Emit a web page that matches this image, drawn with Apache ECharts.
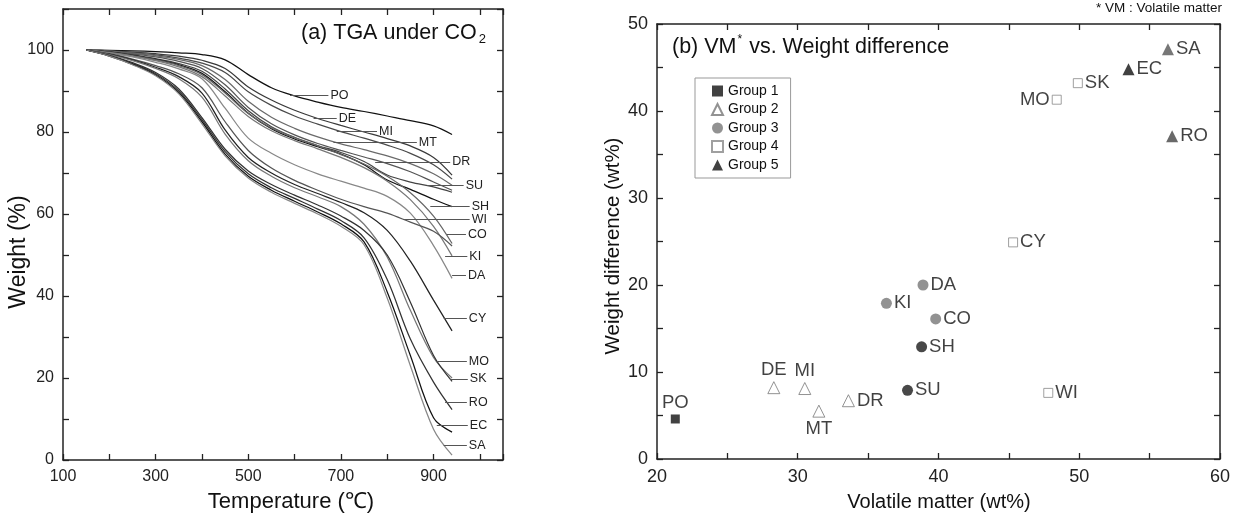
<!DOCTYPE html>
<html><head><meta charset="utf-8">
<script src="https://cdn.jsdelivr.net/npm/echarts/dist/echarts.min.js"></script>
<style>html,body{margin:0;padding:0;background:#fff}#c{width:1233px;height:518px}</style>
</head><body><div id="c"></div>
<script>
// ---------- (a) TGA curves ----------
const temps = [150,200,250,300,350,400,450,500,550,600,650,700,750,800,850,900,940];
const wPO = [100,99.9,99.8,99.6,99.3,98.9,97.6,94.0,90.8,88.8,87.3,86.0,85.0,83.9,82.8,81.5,79.4];
const wDE = [100,99.8,99.5,99.1,98.5,97.5,95.5,91.0,87.8,85.3,83.3,81.6,80.0,78.4,76.6,73.8,69.5];
const wMI = [100,99.7,99.3,98.8,98.0,96.8,94.5,89.8,86.5,83.9,81.9,80.1,78.5,76.8,74.8,72.0,68.5];
const wMT = [100,99.7,99.2,98.6,97.7,96.2,92.8,87.5,83.6,80.9,78.8,77.1,75.7,74.2,72.3,69.8,67.0];
const wDR = [100,99.6,99.0,98.3,97.2,95.5,91.5,86.0,82.0,79.3,77.2,75.5,73.9,72.3,70.3,67.8,65.8];
const wSU = [100,99.5,98.8,97.9,96.7,94.8,90.5,85.2,81.3,78.7,76.7,75.0,72.8,69.5,67.8,66.6,65.3];
const wSH = [100,99.5,98.7,97.7,96.4,94.3,89.8,84.6,80.8,78.3,76.4,74.6,72.0,68.3,66.0,63.6,61.8];
const wCO = [100,99.4,98.6,97.6,96.2,94.0,89.5,84.5,81.0,78.6,76.6,74.5,72.2,69.2,65.2,59.5,52.8];
const wKI = [100,99.4,98.5,97.4,95.9,93.5,88.8,83.8,80.3,77.9,75.9,73.8,71.3,68.0,63.5,57.0,49.8];
const wDA = [100,99.3,98.3,97.0,95.4,93.0,85.8,78.5,74.8,72.0,69.8,68.0,66.3,64.3,60.2,52.3,44.3];
const wWI = [100,99.1,97.8,96.2,94.2,90.8,82.5,75.5,71.2,68.2,65.8,63.6,61.8,60.2,58.0,55.8,52.2];
const wCY = [100,99.0,97.6,95.8,93.5,89.5,80.5,73.8,70.0,67.2,65.0,62.8,60.3,56.0,48.5,39.0,31.5];
const wMO = [100,98.9,97.4,95.5,93.0,88.5,79.5,73.0,69.2,66.4,64.2,61.8,57.5,49.5,36.5,25.0,20.0];
const wSK = [100,98.7,96.9,94.5,90.5,83.5,75.8,70.5,67.2,64.6,62.2,59.5,56.0,50.0,38.5,25.5,19.2];
const wRO = [100,98.6,96.7,94.2,90.0,83.0,75.2,69.8,66.4,63.8,61.2,58.4,54.2,44.0,29.5,19.0,12.3];
const wEC = [100,98.5,96.5,93.9,89.6,82.5,74.6,69.2,65.8,63.1,60.5,57.6,53.2,41.0,25.5,10.3,6.8];
const wSA = [100,98.5,96.4,93.7,89.3,82.0,74.2,68.8,65.3,62.6,60.0,57.0,52.5,39.5,23.0,7.5,1.2];
const curveNames = ['PO','DE','MI','MT','DR','SU','SH','CO','KI','DA','WI','CY','MO','SK','RO','EC','SA'];
const curveValues = [wPO,wDE,wMI,wMT,wDR,wSU,wSH,wCO,wKI,wDA,wWI,wCY,wMO,wSK,wRO,wEC,wSA];

// leader lines with labels
const leaderNames = ['PO','DE','MI','MT','DR','SU','SH','WI','CO','KI','DA','CY','MO','SK','RO','EC','SA'];
const leaderFrom  = [590,641,691,684,774,886,893,835,929,925,940,922,907,936,925,907,922];
const leaderTo    = [673,691,778,864,936,965,978,978,970,973,970,972,972,974,972,974,972];
const leaderW     = [88.9,83.3,80.2,77.4,72.7,66.9,61.9,58.6,55.0,49.7,45.0,34.6,24.0,19.8,14.0,8.4,3.5];

// ---------- (b) scatter ----------
const groupNames = ['Group 1','Group 2','Group 3','Group 4','Group 5'];
const sampleNames    = ['PO','DE','MI','MT','DR','SU','SH','CO','KI','DA','CY','WI','MO','SK','EC','SA','RO'];
const volatileMatter = [21.3,28.3,30.5,31.5,33.6,37.8,38.8,39.8,36.3,38.9,45.3,47.8,48.4,49.9,53.5,56.3,56.6];
const weightDiff     = [4.6,8.2,8.1,5.5,6.7,7.9,12.9,16.1,17.9,20.0,24.9,7.6,41.3,43.2,44.8,47.1,37.1];
const sampleGroup    = [1,2,2,2,2,3,3,3,3,3,4,4,4,4,5,5,5];

// ---------- styles ----------
const curveColor = {PO:'#111',DE:'#3a3a3a',MI:'#4a4a4a',MT:'#6a6a6a',DR:'#555',SU:'#444',SH:'#111',CO:'#666',KI:'#777',DA:'#888',WI:'#555',CY:'#222',MO:'#777',SK:'#333',RO:'#333',EC:'#111',SA:'#888'};
const labelPos = {PO:'top',DE:'top',MI:'top',MT:'bottom',MO:'left'};
const pointColor = {SU:'#1a1a1a',SH:'#1a1a1a',SA:'#555',RO:'#444',EC:'#111'};
const groupStyle = [
  {symbol:'rect', size:9, itemStyle:{color:'#111'}},
  {symbol:'triangle', size:12, itemStyle:{color:'#fff', borderColor:'#777', borderWidth:1}},
  {symbol:'circle', size:11, itemStyle:{color:'#777'}},
  {symbol:'rect', size:9, itemStyle:{color:'#fff', borderColor:'#888', borderWidth:1}},
  {symbol:'triangle', size:12, itemStyle:{color:'#111'}}
];
const FONT = '"Liberation Sans", Arial, sans-serif';
const axisCol = '#222';

function mkX(grid, pos, min, max, interval, labelFn, fs, showLab){
  return {gridIndex:grid, type:'value', position:pos, min:min, max:max, interval:interval,
    axisLine:{show:true, onZero:false, lineStyle:{color:axisCol, width:1.5}},
    axisTick:{show:true, inside:true, length:6, lineStyle:{color:axisCol, width:1.3}},
    axisLabel:{show:showLab, formatter:labelFn, fontSize:fs, color:axisCol, fontFamily:FONT, margin:9, showMaxLabel:true, showMinLabel:true},
    splitLine:{show:false}};
}
const leftXFmt = v => ((v-100)%200===0 && v<=900) ? String(v) : '';
const leftYFmt = v => (v%20===0 && v<=100) ? String(v) : '';
const rightFmt = v => (v%10===0) ? String(v) : '';

const series = [];
curveNames.forEach((n,i)=>{
  series.push({type:'line', name:n, xAxisIndex:0, yAxisIndex:0, showSymbol:false, smooth:0.35, silent:true,
    data: temps.map((t,j)=>[t, curveValues[i][j]]),
    lineStyle:{color:curveColor[n], width:1.25}, z:2});
});
series.push({type:'lines', coordinateSystem:'cartesian2d', xAxisIndex:0, yAxisIndex:0, polyline:false, silent:true, z:3,
  lineStyle:{color:'#555', width:1, opacity:1, curveness:0},
  label:{show:true, position:'end', formatter:p=>p.name, fontSize:12.5, color:'#222', fontFamily:FONT, distance:2},
  data: leaderNames.map((n,i)=>({name:n, coords:[[leaderFrom[i], leaderW[i]],[leaderTo[i], leaderW[i]]]}))});

groupNames.forEach((g,gi)=>{
  const st = groupStyle[gi];
  const data = [];
  sampleNames.forEach((n,i)=>{
    if (sampleGroup[i] !== gi+1) return;
    const item = {name:n, value:[volatileMatter[i], weightDiff[i]], label:{position: labelPos[n] || 'right'}};
    if (pointColor[n]) item.itemStyle = {color: pointColor[n]};
    data.push(item);
  });
  series.push({type:'scatter', name:g, xAxisIndex:2, yAxisIndex:2, symbol:st.symbol, symbolSize:st.size,
    itemStyle:st.itemStyle, data:data, z:4,
    label:{show:true, formatter:p=>p.name, fontSize:18.5, color:'#111', fontFamily:FONT, distance:2}});
});

const chart = echarts.init(document.getElementById('c'), null, {renderer:'canvas'});
chart.setOption({
  backgroundColor:'#fff',
  animation:false,
  textStyle:{fontFamily:FONT},
  grid:[
    {left:63, top:9, width:440, height:451},
    {left:657, top:24, width:564, height:435}
  ],
  title:[
    {text:'{a|(a) TGA under CO}{s|2}', left:301, top:20, padding:0,
      textStyle:{fontWeight:'normal', rich:{a:{fontSize:21.5, fontWeight:'normal', color:'#111', fontFamily:FONT, lineHeight:26}, s:{fontSize:13, fontWeight:'normal', color:'#111', fontFamily:FONT, lineHeight:12, verticalAlign:'bottom', padding:[0,0,0,2]}}}},
    {text:'{a|(b) VM}{s|*}{a| vs. Weight difference}', left:672, top:34, padding:0,
      textStyle:{fontWeight:'normal', rich:{a:{fontSize:21.5, fontWeight:'normal', color:'#111', fontFamily:FONT, lineHeight:26}, s:{fontSize:12, fontWeight:'normal', color:'#111', fontFamily:FONT, lineHeight:12, verticalAlign:'top', padding:[0,1,0,1]}}}},
    {text:'* VM : Volatile matter', right:11, top:1, padding:0, textStyle:{fontSize:13.5, fontWeight:'normal', color:'#111', fontFamily:FONT}}
  ],
  legend:{data:groupNames, orient:'vertical', left:695, top:78, padding:[6,12,6,16],
    itemWidth:11, itemHeight:11, itemGap:4.5, borderColor:'#999', borderWidth:1,
    textStyle:{fontSize:14, color:'#111', fontFamily:FONT}, selectedMode:false},
  xAxis:[
    mkX(0,'bottom',100,1050,100,leftXFmt,16,true),
    mkX(0,'top',100,1050,100,leftXFmt,16,false),
    mkX(1,'bottom',20,60,5,rightFmt,18,true),
    mkX(1,'top',20,60,5,rightFmt,18,false)
  ],
  yAxis:[
    mkX(0,'left',0,110,10,leftYFmt,16,true),
    mkX(0,'right',0,110,10,leftYFmt,16,false),
    mkX(1,'left',0,50,5,rightFmt,18,true),
    mkX(1,'right',0,50,5,rightFmt,18,false)
  ],
  graphic:[
    {type:'text', x:19, y:252, rotation:Math.PI/2, style:{text:'Weight (%)', fontSize:23, fill:'#111', fontFamily:FONT, align:'center', verticalAlign:'middle'}},
    {type:'text', x:291, y:502, style:{text:'Temperature (\u2103)', fontSize:22, fill:'#111', fontFamily:FONT, align:'center', verticalAlign:'middle'}},
    {type:'text', x:613, y:246, rotation:Math.PI/2, style:{text:'Weight difference (wt%)', fontSize:20.5, fill:'#111', fontFamily:FONT, align:'center', verticalAlign:'middle'}},
    {type:'text', x:939, y:502, style:{text:'Volatile matter (wt%)', fontSize:20, fill:'#111', fontFamily:FONT, align:'center', verticalAlign:'middle'}}
  ],
  series: series
});
</script></body></html>
